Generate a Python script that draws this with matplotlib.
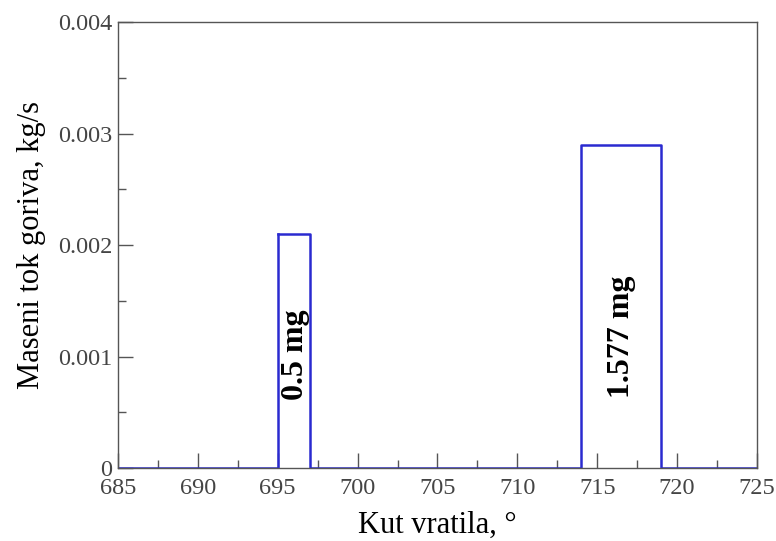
import matplotlib
matplotlib.use("Agg")
import matplotlib.pyplot as plt
from matplotlib.ticker import MultipleLocator

# Data: step profile of fuel mass flow
crank_angle = [685, 695, 695, 697, 697, 714, 714, 719, 719, 725]
mass_flow = [0, 0, 0.0021, 0.0021, 0, 0, 0.0029, 0.0029, 0, 0]
labels = ["0.5 mg", "1.577 mg"]
label_x = [696.1, 716.5]
label_y = [0.00102, 0.00118]

plt.rcParams['font.family'] = ['Liberation Serif', 'DejaVu Serif']

fig = plt.figure(figsize=(7.76, 5.41), dpi=100)
ax = fig.add_axes([0.152, 0.135, 0.8235, 0.824])

ax.plot(crank_angle[:3], mass_flow[:3], color='#2a2ad0', lw=1.8)
ax.plot(crank_angle[2:], mass_flow[2:], color='#2a2ad0', lw=1.8)

for t, x, y in zip(labels, label_x, label_y):
    ax.text(x, y, t, rotation=90, ha='center', va='center',
            fontsize=23, fontweight='bold', color='black')

ax.set_xlim(685, 725)
ax.set_ylim(0, 0.004)
ax.xaxis.set_major_locator(MultipleLocator(5))
ax.xaxis.set_minor_locator(MultipleLocator(2.5))
ax.yaxis.set_minor_locator(MultipleLocator(0.0005))
ax.set_yticks([0, 0.001, 0.002, 0.003, 0.004])
ax.set_yticklabels(['0', '0.001', '0.002', '0.003', '0.004'])

for s in ax.spines.values():
    s.set_color('#555555')
    s.set_linewidth(1.0)

ax.tick_params(which='both', direction='in', colors='#555555', labelcolor='#444444',
               labelsize=17.5, top=False, right=False)
ax.tick_params(which='major', length=11, width=1)
ax.tick_params(which='minor', length=6, width=1)
ax.tick_params(axis='x', pad=7)
ax.tick_params(axis='y', pad=4)

ax.set_xlabel('Kut vratila, °', fontsize=22, labelpad=9)
ax.set_ylabel('Maseni tok goriva, kg/s', fontsize=22, labelpad=9)

fig.savefig('out.png', dpi=100)
